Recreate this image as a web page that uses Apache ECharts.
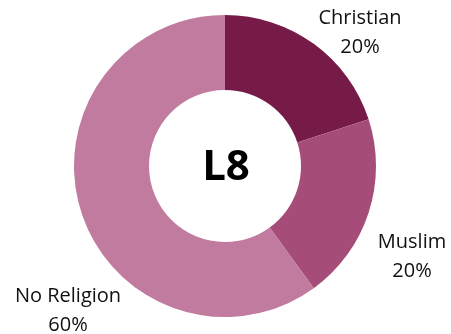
<!DOCTYPE html>
<html>
<head>
<meta charset="utf-8">
<script src="https://cdn.jsdelivr.net/npm/echarts@6/dist/echarts.min.js"></script>
<style>
  html, body { margin: 0; padding: 0; background: #fff; }
  #chart { width: 451px; height: 334px; }
</style>
</head>
<body>
<div id="chart"></div>
<script>
// Religion breakdown for group L8
const categories = ['Christian', 'Muslim', 'No Religion'];
const shares = [20, 20, 60];
const sliceColors = ['#761b48', '#a54d78', '#c17b9f'];
const centerTitle = 'L8';

// where each two-line label sits (centre of the text block)
const labelSpots = [
  { x: 360, y: 33 },
  { x: 412, y: 257 },
  { x: 68, y: 311 }
];

const chart = echarts.init(document.getElementById('chart'), null, { renderer: 'canvas' });

chart.setOption({
  animation: false,
  backgroundColor: '#ffffff',
  graphic: [{
    type: 'text',
    x: 226,
    y: 168,
    silent: true,
    style: {
      text: centerTitle,
      align: 'center',
      verticalAlign: 'middle',
      fontFamily: 'Open Sans',
      fontWeight: 'bold',
      fontSize: 42,
      fill: '#000'
    }
  }],
  series: [{
    type: 'pie',
    center: [225, 166],
    radius: [76, 151],
    startAngle: 90,
    clockwise: true,
    silent: true,
    data: categories.map((name, i) => ({
      name,
      value: shares[i],
      itemStyle: { color: sliceColors[i] }
    })),
    itemStyle: { borderWidth: 0 },
    label: {
      show: true,
      position: 'outside',
      formatter: p => p.name + '\n' + p.value + '%',
      fontFamily: 'Open Sans',
      fontSize: 20,
      lineHeight: 29,
      color: '#111',
      align: 'center',
      overflow: 'none'
    },
    labelLine: { show: false },
    labelLayout: params => ({
      x: labelSpots[params.dataIndex].x,
      y: labelSpots[params.dataIndex].y,
      align: 'center',
      verticalAlign: 'middle'
    })
  }]
});
</script>
</body>
</html>
